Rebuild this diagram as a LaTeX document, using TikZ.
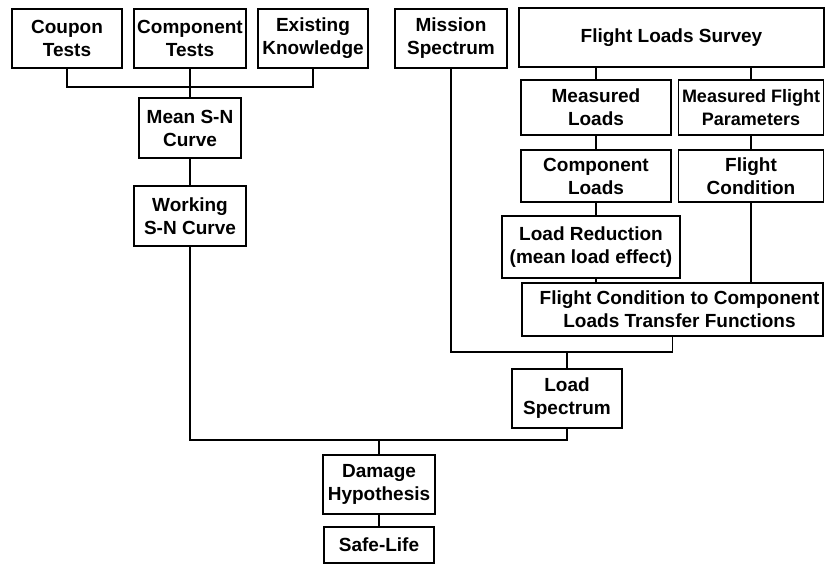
\documentclass[tikz,border=0pt]{standalone}
\usepackage{fontspec}
\setmainfont{Liberation Sans}
\begin{document}
\begin{tikzpicture}[x=1pt,y=-1pt,
  bx/.style={draw, line width=1.4pt, rectangle, inner sep=0pt, align=center,
    font=\bfseries\fontsize{19}{23}\selectfont},
  ln/.style={line width=1.4pt}]
\useasboundingbox (0,0) rectangle (830,565);
% top row
\node[bx, minimum width=110pt, minimum height=59pt] (coupon) at (67,38.5) {Coupon\\Tests};
\node[bx, minimum width=112pt, minimum height=59pt] (component) at (190,38.5) {Component\\Tests};
\node[bx, minimum width=110pt, minimum height=59pt] (existing) at (313,38.5) {Existing\\Knowledge};
\node[bx, minimum width=112pt, minimum height=59pt] (mission) at (451,38.5) {Mission\\Spectrum};
\node[bx, minimum width=305pt, minimum height=59pt] (fls) at (671.5,37.5) {Flight Loads Survey};
% left column
\node[bx, minimum width=102pt, minimum height=60pt] (mean) at (190,128) {Mean S-N\\Curve};
\node[bx, minimum width=112pt, minimum height=60pt] (working) at (190,216) {Working\\S-N Curve};
% right column
\node[bx, minimum width=150pt, minimum height=55pt] (ml) at (596,107.5) {Measured\\Loads};
\node[bx, minimum width=145pt, minimum height=55pt, font=\bfseries\fontsize{18}{23}\selectfont] (mfp) at (751,107.5) {Measured Flight\\Parameters};
\node[bx, minimum width=150pt, minimum height=52pt] (cl) at (596,176) {Component\\Loads};
\node[bx, minimum width=145pt, minimum height=52pt] (fc) at (751,176) {Flight\\Condition};
\node[bx, minimum width=178pt, minimum height=62pt] (lr) at (591,247) {Load Reduction\\(mean load effect)};
\node[bx, minimum width=301pt, minimum height=53pt] (fct) at (672.5,309.5)
  {\hspace*{14pt}Flight Condition to Component\\\hspace*{14pt}Loads Transfer Functions};
% bottom
\node[bx, minimum width=110pt, minimum height=59pt] (ls) at (567,398.5) {Load\\Spectrum};
\node[bx, minimum width=112pt, minimum height=59pt] (dh) at (379,484.5) {Damage\\Hypothesis};
\node[bx, minimum width=110pt, minimum height=36pt] (sl) at (379,545) {Safe-Life};
% junctions
\coordinate (tb) at (190,87);
\coordinate (mb) at (567,352);
\coordinate (bb) at (379,440);
% connectors
\draw[ln] (coupon.south) |- (tb) -| (existing.south);
\draw[ln] (component.south) -- (mean.north);
\draw[ln] (mean.south) -- (working.north);
\draw[ln] (working.south) |- (bb) -| (ls.south);
\draw[ln] (bb) -- (dh.north);
\draw[ln] (dh.south) -- (sl.north);
\draw[ln] (fls.south -| ml.north) -- (ml.north);
\draw[ln] (fls.south -| mfp.north) -- (mfp.north);
\draw[ln] (ml.south) -- (cl.north);
\draw[ln] (mfp.south) -- (fc.north);
\draw[ln] (cl.south) -- (cl.south |- lr.north);
\draw[ln] (cl.south |- lr.south) -- (cl.south |- fct.north);
\draw[ln] (fc.south) -- (fc.south |- fct.north);
\draw[ln] (mission.south) |- (mb) -| (fct.south);
\draw[ln] (mb) -- (ls.north);
\end{tikzpicture}
\end{document}
